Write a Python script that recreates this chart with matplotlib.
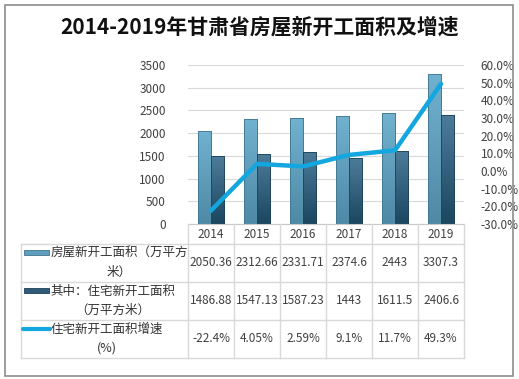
import numpy as np
import matplotlib
matplotlib.use("Agg")
import matplotlib.pyplot as plt
from matplotlib.colors import LinearSegmentedColormap
from matplotlib.lines import Line2D
from matplotlib.patches import Rectangle

plt.rcParams['font.family'] = ['Noto Sans CJK SC', 'DejaVu Sans']

years = ["2014", "2015", "2016", "2017", "2018", "2019"]
house_area = [2050.36, 2312.66, 2331.71, 2374.6, 2443, 3307.3]
resid_area = [1486.88, 1547.13, 1587.23, 1443, 1611.5, 2406.6]
resid_growth = [-22.4, 4.05, 2.59, 9.1, 11.7, 49.3]
house_text = ["2050.36", "2312.66", "2331.71", "2374.6", "2443", "3307.3"]
resid_text = ["1486.88", "1547.13", "1587.23", "1443", "1611.5", "2406.6"]
growth_text = ["-22.4%", "4.05%", "2.59%", "9.1%", "11.7%", "49.3%"]
row_labels = ["房屋新开工面积（万平方\n米）", "其中：住宅新开工面积\n（万平方米）", "住宅新开工面积增速\n(%)"]

W, H = 519, 379
LIGHT = ("#71b2d0", "#4e89a5")
DARK = ("#4d7c9a", "#1b4660")
LINE_C = "#14a6de"
GRID_C = "#d9d9d9"
TEXT_C = "#404040"


def fx(x):
    return x / W


def fy(y):
    return 1 - y / H


def gradient_bar(ax, bar, c_top, c_bot):
    x, y = bar.get_xy()
    w, h = bar.get_width(), bar.get_height()
    cmap = LinearSegmentedColormap.from_list("g", [c_bot, c_top])
    grad = np.linspace(0, 1, 128).reshape(-1, 1)
    im = ax.imshow(grad, extent=[x, x + w, y, y + h], origin="lower",
                   aspect="auto", cmap=cmap, zorder=2)
    im.set_clip_path(bar)


fig = plt.figure(figsize=(W / 100, H / 100), dpi=100)

# outer frame
fig.patches.append(Rectangle((fx(5), fy(376)), fx(508), (371) / H,
                             transform=fig.transFigure, fill=False,
                             edgecolor="#8c8c8c", lw=1.2))

fig.text(0.5, fy(27), "2014-2019年甘肃省房屋新开工面积及增速",
         ha="center", va="center", fontsize=15, fontweight="bold", color="#111111")

left, right, top, bottom = 188, 464, 65, 224
ax = fig.add_axes([fx(left), fy(bottom), (right - left) / W, (bottom - top) / H])
x = np.arange(len(years))
bw = 0.29
b1 = ax.bar(x - bw / 2, house_area, bw, color="none", edgecolor="#3f7590", lw=0.6, zorder=3)
b2 = ax.bar(x + bw / 2, resid_area, bw, color="none", edgecolor="#1d4158", lw=0.6, zorder=3)
for b in b1:
    gradient_bar(ax, b, *LIGHT)
for b in b2:
    gradient_bar(ax, b, *DARK)

ax.set_xlim(-0.5, len(years) - 0.5)
ax.set_ylim(0, 3500)
ax.set_yticks(range(0, 3501, 500))
ax.yaxis.grid(True, color=GRID_C, lw=0.8)
ax.set_axisbelow(True)
ax.set_xticks([])
for s in ["top", "left", "right"]:
    ax.spines[s].set_visible(False)
ax.spines["bottom"].set_color("#c8c8c8")
ax.tick_params(axis="y", length=0, pad=16, labelsize=8.5, labelcolor=TEXT_C)

ax2 = ax.twinx()
ax2.plot(x, resid_growth, color=LINE_C, lw=3.2, solid_capstyle="round", zorder=5)
ax2.set_ylim(-30, 60)
ax2.set_yticks(range(-30, 61, 10))
ax2.set_yticklabels([f"{v:.1f}%" for v in range(-30, 61, 10)])
for s in ax2.spines.values():
    s.set_visible(False)
ax2.tick_params(axis="y", length=0, pad=12, labelsize=8.5, labelcolor=TEXT_C)

# data table
col_w = (right - left) / len(years)
cols = [left + i * col_w for i in range(len(years) + 1)]
tbl_left = 21
head_bot = 244
rows = [head_bot, 282, 320, 358]


def hline(x0, x1, y):
    fig.lines.append(Line2D([fx(x0), fx(x1)], [fy(y), fy(y)], transform=fig.transFigure,
                            color=GRID_C, lw=1))


def vline(xp, y0, y1):
    fig.lines.append(Line2D([fx(xp), fx(xp)], [fy(y0), fy(y1)], transform=fig.transFigure,
                            color=GRID_C, lw=1))


for c in cols:
    vline(c, bottom, rows[-1])
vline(tbl_left, head_bot, rows[-1])
for r in rows:
    hline(tbl_left, right, r)

for i, yr in enumerate(years):
    cx = (cols[i] + cols[i + 1]) / 2
    fig.text(fx(cx), fy(234), yr, ha="center", va="center", fontsize=8.5, color=TEXT_C)

values = [house_text, resid_text, growth_text]
label_x = [119, 113, 107]
for r, vals in enumerate(values):
    cy = (rows[r] + rows[r + 1]) / 2
    for i, v in enumerate(vals):
        cx = (cols[i] + cols[i + 1]) / 2
        fig.text(fx(cx), fy(cy), v, ha="center", va="center", fontsize=8.5, color=TEXT_C)
    fig.text(fx(label_x[r]), fy(cy), row_labels[r], ha="center", va="center",
             multialignment="center", fontsize=9, color="#333333", linespacing=1.6)

# legend keys in the table
fig.patches.append(Rectangle((fx(24), fy(255)), fx(25), 5 / H, transform=fig.transFigure,
                             facecolor="#5f9dbd", edgecolor="#3f7590", lw=0.6))
fig.patches.append(Rectangle((fx(24), fy(293)), fx(25), 5 / H, transform=fig.transFigure,
                             facecolor="#2f5a78", edgecolor="#1d4158", lw=0.6))
fig.lines.append(Line2D([fx(23), fx(50)], [fy(329), fy(329)], transform=fig.transFigure,
                        color=LINE_C, lw=3, solid_capstyle="round"))

fig.savefig("out.png", dpi=100)
